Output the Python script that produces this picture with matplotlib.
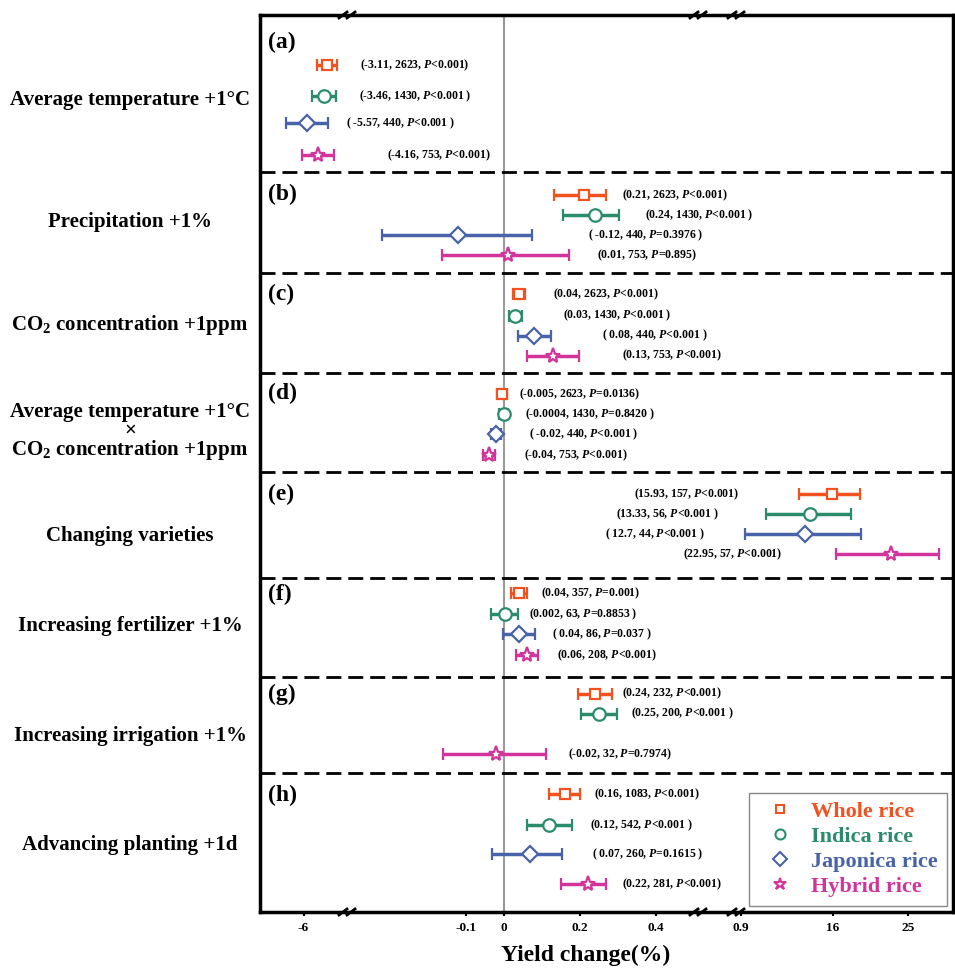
import numpy as np
import matplotlib
matplotlib.use("Agg")
import matplotlib.pyplot as plt
import matplotlib.transforms as mtransforms
from matplotlib.lines import Line2D

plt.rcParams['font.family'] = ['Liberation Serif', 'DejaVu Serif']
plt.rcParams['font.weight'] = 'bold'
plt.rcParams['mathtext.fontset'] = 'custom'
plt.rcParams['mathtext.rm'] = 'Liberation Serif:bold'
plt.rcParams['mathtext.it'] = 'Liberation Serif:italic:bold'
plt.rcParams['mathtext.bf'] = 'Liberation Serif:bold'

# --- data ---
factors = ['Average temperature +1°C', 'Precipitation +1%', 'CO$_\\mathrm{2}$ concentration +1ppm',
           'Average temperature +1°C\n×\nCO$_\\mathrm{2}$ concentration +1ppm', 'Changing varieties',
           'Increasing fertilizer +1%', 'Increasing irrigation +1%', 'Advancing planting +1d']
panel_tags = ['(a)', '(b)', '(c)', '(d)', '(e)', '(f)', '(g)', '(h)']
series_names = ['Whole rice', 'Indica rice', 'Japonica rice', 'Hybrid rice']

whole_mean = [-3.11, 0.21, 0.04, -0.005, 15.93, 0.04, 0.24, 0.16]
whole_lo = [-4.36, 0.132, 0.024, -0.017, 12.01, 0.02, 0.195, 0.12]
whole_hi = [-1.86, 0.268, 0.056, 0.007, 19.28, 0.06, 0.285, 0.20]
whole_n = [2623, 2623, 2623, 2623, 157, 357, 232, 1083]
whole_p = ['<0.001', '<0.001', '<0.001', '=0.0136', '<0.001', '=0.001', '<0.001', '<0.001']

indica_mean = [-3.46, 0.24, 0.03, -0.0004, 13.33, 0.002, 0.25, 0.12]
indica_lo = [-4.96, 0.156, 0.013, -0.0124, 5.61, -0.033, 0.202, 0.06]
indica_hi = [-1.96, 0.303, 0.047, 0.0116, 18.20, 0.037, 0.298, 0.18]
indica_n = [1430, 1430, 1430, 1430, 56, 63, 200, 542]
indica_p = ['<0.001', '<0.001', '<0.001', '=0.8420', '<0.001', '=0.8853', '<0.001', '<0.001']

japonica_mean = [-5.57, -0.12, 0.08, -0.02, 12.7, 0.04, None, 0.07]
japonica_lo = [-8.22, -0.320, 0.036, -0.033, 1.66, -0.002, None, -0.030]
japonica_hi = [-2.92, 0.074, 0.124, -0.007, 19.40, 0.082, None, 0.154]
japonica_n = [440, 440, 440, 440, 44, 86, None, 260]
japonica_p = ['<0.001', '=0.3976', '<0.001', '<0.001', '<0.001', '=0.037', None, '=0.1615']

hybrid_mean = [-4.16, 0.01, 0.13, -0.04, 22.95, 0.06, -0.02, 0.22]
hybrid_lo = [-6.16, -0.164, 0.062, -0.056, 16.41, 0.031, -0.161, 0.15]
hybrid_hi = [-2.16, 0.172, 0.198, -0.024, 28.74, 0.089, 0.111, 0.268]
hybrid_n = [753, 753, 753, 753, 57, 208, 32, 281]
hybrid_p = ['<0.001', '=0.895', '<0.001', '<0.001', '<0.001', '<0.001', '=0.7974', '<0.001']

tick_vals = [-6, -0.1, 0, 0.2, 0.4, 0.9, 16, 25]
tick_labels = ['-6', '-0.1', '0', '0.2', '0.4', '0.9', '16', '25']

# --- layout (figure pixels, 955 x 969) ---
W, H = 955, 969
AX_L, AX_R, AX_T, AX_B = 260, 953, 15, 912
sep_y = [172, 273, 373, 472, 578, 677, 773]
tag_y = [42, 194, 294, 393, 494, 594, 694, 795]
factor_y = [100, 222, 325, 432, 536, 626, 736, 845]
row_y = [
    [65, 195, 294, 394.3, 494, 593, 693.7, 794],
    [96, 215, 315.7, 414.3, 514.3, 614, 713.7, 825],
    [123.3, 235, 335.7, 434.3, 534.3, 634, np.nan, 854],
    [155, 255, 355.7, 455, 554.3, 655.3, 754.3, 884],
]
label_px = [
    [360, 621.7, 552.7, 519.3, 634.3, 541, 621.7, 594],
    [359.3, 645, 563.3, 525, 616, 529.3, 630.7, 590],
    [346, 588, 601.7, 529.3, 605, 551.7, np.nan, 591.7],
    [386.7, 596.7, 621.7, 524, 683.3, 556.7, 568.3, 621.7],
]
colors = ['#F1521F', '#2B8C6D', '#4863A9', '#D3349B']
markers = ['s', 'o', 'D', '*']
msizes = [7.5, 9, 8.5, 11]
wrap_open = ['(', '(', '( ', '(']
wrap_close = [')', ' )', ' )', ')']

# broken axis: piecewise linear mapping, data -> pixel
knots_data = [-20, -1.5, -0.389, 0.487, 0.9, 12, 40]
knots_pix = [191.5, 339.5, 356, 689, 741, 799.2, 1033]


def fwd(x):
    return np.interp(x, knots_data, knots_pix)


def inv(p):
    return np.interp(p, knots_pix, knots_data)


fig = plt.figure(figsize=(W / 100, H / 100), dpi=100)
ax = fig.add_axes([AX_L / W, 1 - AX_B / H, (AX_R - AX_L) / W, (AX_B - AX_T) / H])
ax.set_xscale('function', functions=(fwd, inv))
ax.set_xlim(inv(AX_L), inv(AX_R))
ax.set_ylim(AX_B, AX_T)
blend = mtransforms.blended_transform_factory(ax.transAxes, ax.transData)

ax.axvline(0, color='#9a9a9a', lw=1.5, zorder=1)
for y in sep_y:
    ax.axhline(y, color='black', lw=2, ls=(0, (5.4, 2.5)), zorder=1)

means = [whole_mean, indica_mean, japonica_mean, hybrid_mean]
los = [whole_lo, indica_lo, japonica_lo, hybrid_lo]
his = [whole_hi, indica_hi, japonica_hi, hybrid_hi]
ns = [whole_n, indica_n, japonica_n, hybrid_n]
ps = [whole_p, indica_p, japonica_p, hybrid_p]

for k in range(4):
    for i in range(len(factors)):
        m = means[k][i]
        if m is None:
            continue
        y = row_y[k][i]
        ax.errorbar([m], [y], xerr=[[m - los[k][i]], [his[k][i] - m]], fmt=markers[k],
                    color=colors[k], mfc='white', mec=colors[k], ms=msizes[k], mew=1.6,
                    elinewidth=2.5, capsize=4, capthick=2.5, zorder=3)
        txt = f"{wrap_open[k]}{m}, {ns[k][i]}, $P${ps[k][i]}{wrap_close[k]}"
        ax.text((label_px[k][i] - AX_L) / (AX_R - AX_L), y, txt, fontsize=8.5,
                ha='left', va='center', transform=blend)

for tag, y in zip(panel_tags, tag_y):
    ax.text(8 / (AX_R - AX_L), y, tag, fontsize=17, ha='left', va='center', transform=blend)

for name, y in zip(factors, factor_y):
    fig.text(130 / W, 1 - y / H, name, fontsize=15, ha='center', va='center', linespacing=0.85)

ax.set_xticks(tick_vals)
ax.set_xticklabels(tick_labels)
ax.minorticks_off()
ax.set_yticks([])
ax.tick_params(axis='x', labelsize=9.5, length=3, width=1.5, pad=4)
ax.set_xlabel('Yield change(%)', fontsize=17, fontweight='bold', labelpad=8, x=0.47)
for s in ax.spines.values():
    s.set_linewidth(2.5)

# break marks on top and bottom spines
for bx in [347, 698, 736]:
    for by in [AX_T, AX_B]:
        for dx in (-4, 4):
            x0 = bx + dx
            fig.add_artist(Line2D([(x0 - 4) / W, (x0 + 4) / W], [1 - (by + 3) / H, 1 - (by - 3) / H],
                                  color='black', lw=2))

handles = [Line2D([], [], ls='none', marker=markers[k], ms=msizes[k] * 0.8, mfc='white',
                  mec=colors[k], mew=1.5) for k in range(4)]
leg = ax.legend(handles, series_names, loc='upper right',
                bbox_to_anchor=((946.7 - AX_L) / (AX_R - AX_L), (AX_B - 792.7) / (AX_B - AX_T)),
                borderaxespad=0, prop={'family': 'Liberation Serif', 'weight': 'bold', 'size': 16},
                labelcolor=colors, frameon=True, fancybox=False, framealpha=1, edgecolor='#888888',
                handlelength=2, handletextpad=0.4, labelspacing=0.2, borderpad=0.4)
leg.get_frame().set_linewidth(1)

fig.savefig('out.png', dpi=100)
